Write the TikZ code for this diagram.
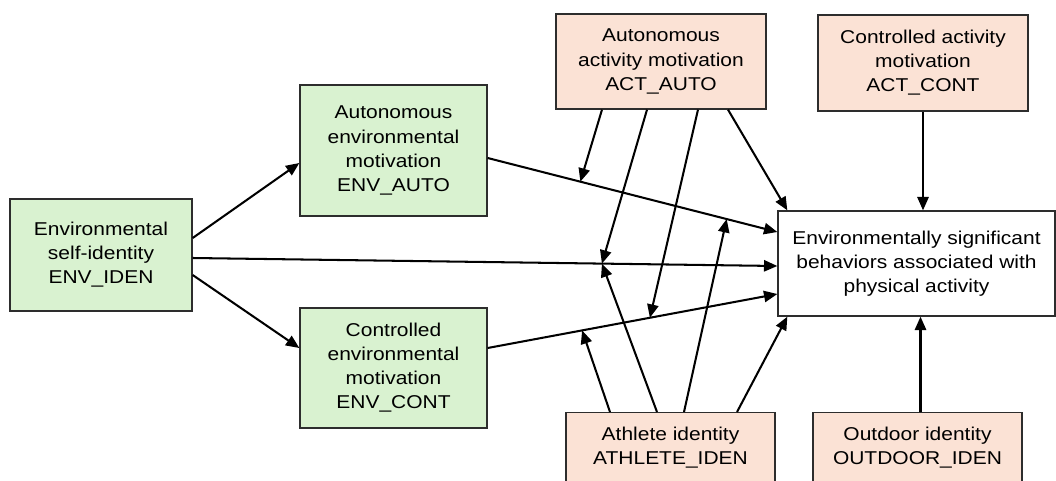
\documentclass[tikz,border=0pt]{standalone}
\usepackage{fontspec}
\setmainfont{Liberation Sans}[FakeStretch=1.13]
\usetikzlibrary{arrows.meta,calc}
\definecolor{leaf}{RGB}{217,242,208}
\definecolor{peach}{RGB}{251,226,213}
\definecolor{ink}{RGB}{45,45,45}
\tikzset{
  >={Triangle[length=9.5pt,width=8pt]},
  box/.style={draw=ink,fill=#1,line width=0.9pt,align=center,inner sep=2pt,
    font=\fontsize{13.2}{17.1}\selectfont},
  box/.default=white,
  link/.style={->,line width=1.45pt,draw=black},
}
\begin{document}
\begin{tikzpicture}[x=0.025cm,y=-0.025cm]
  \useasboundingbox (0,0) rectangle (1056,480);
  % environment side
  \node[box=leaf,minimum width=4.55cm,minimum height=2.8cm] (iden) at (101,255) {Environmental\\self-identity\\ENV\_IDEN};
  \node[box=leaf,minimum width=4.675cm,minimum height=3.275cm] (envauto) at (393.5,150.5) {Autonomous\\environmental\\motivation\\ENV\_AUTO};
  \node[box=leaf,minimum width=4.675cm,minimum height=3cm] (envcont) at (393.5,368) {Controlled\\environmental\\motivation\\ENV\_CONT};
  % activity side
  \node[box=peach,minimum width=5.25cm,minimum height=2.375cm] (actauto) at (661,61.5) {Autonomous\\activity motivation\\ACT\_AUTO};
  \node[box=peach,minimum width=5.25cm,minimum height=2.4cm] (actcont) at (923,63) {Controlled activity\\motivation\\ACT\_CONT};
  \node[box=peach,anchor=north,minimum width=5.225cm,inner ysep=10pt,text depth=40pt] (athlete) at (670.5,412) {Athlete identity\\ATHLETE\_IDEN};
  \node[box=peach,anchor=north,minimum width=5.225cm,inner ysep=10pt,text depth=40pt] (outdoor) at (917.5,412) {Outdoor identity\\OUTDOOR\_IDEN};
  % outcome
  \node[box,minimum width=6.925cm,minimum height=2.625cm] (outcome) at (916.5,263.5) {Environmentally significant\\behaviors associated with\\physical activity};

  \draw[link] ($(iden.east)+(0,-17)$) -- ($(envauto.west)+(0,12.5)$);
  \draw[link] ($(iden.east)+(0,20)$) -- ($(envcont.west)+(0,-20)$);
  \draw[link] ($(iden.east)+(0,3)$) -- coordinate[pos=0.70] (mc) ($(outcome.west)+(0,2.5)$);
  \draw[link] ($(envauto.east)+(0,7.5)$) -- coordinate[pos=0.32] (ma) coordinate[pos=0.825] (mb) ($(outcome.west)+(0,-31.5)$);
  \draw[link] ($(envcont.east)+(0,-20)$) -- coordinate[pos=0.326] (me) coordinate[pos=0.56] (md) ($(outcome.west)+(0,30.5)$);

  \coordinate (od) at ($(outdoor.north)+(3,0)$);
  \draw[link] ($(actauto.south)+(67,0)$) -- ($(outcome.north west)+(10,0)$);
  \draw[link] (actcont.south) -- (actcont.south |- outcome.north);
  \draw[link] (od) -- (od |- outcome.south);
  \draw[link] ($(athlete.north)+(66.5,0)$) -- ($(outcome.south west)+(10,0)$);

  % moderating paths
  \foreach \dx/\m in {-59/ma,-14/mc,37/md}
    \draw[link] ($(actauto.south)+(\dx,0)$) -- (\m);
  \foreach \dx/\m in {-60.5/me,-13.5/mc,13.5/mb}
    \draw[link] ($(athlete.north)+(\dx,0)$) -- (\m);
\end{tikzpicture}
\end{document}
